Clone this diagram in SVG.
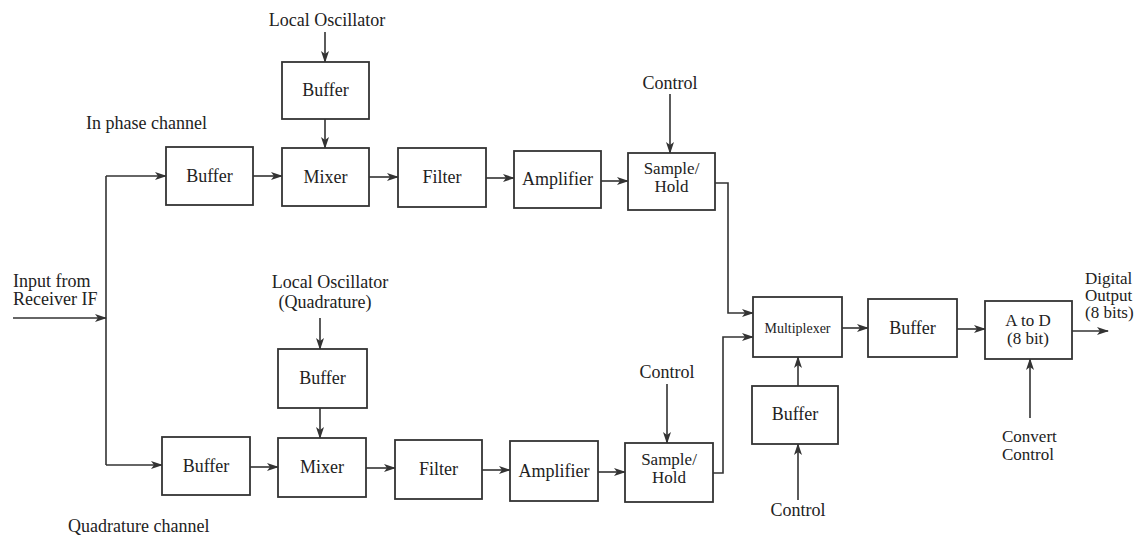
<svg xmlns="http://www.w3.org/2000/svg" width="1146" height="540" viewBox="0 0 1146 540">
<style>
  .box { fill: #fff; stroke: #333; stroke-width: 1.8; }
  .t { font-family: "Liberation Serif", "Times New Roman", serif; font-size: 18px; fill: #222; }
  .c { text-anchor: middle; }
  .m { font-size: 17px; }
  .small { font-size: 14px; }
  .wire { fill: none; stroke: #333; stroke-width: 1.6; }
  .arr { marker-end: url(#ah); }
</style>
<defs>
  <marker id="ah" viewBox="0 0 12 8" refX="11" refY="4" markerWidth="12" markerHeight="8" markerUnits="userSpaceOnUse" orient="auto">
    <path d="M0,0 L12,4 L0,8 L3,4 Z" fill="#333"/>
  </marker>
</defs>
<rect width="1146" height="540" fill="#fff"/>

<g id="connectors">
  <line class="wire arr" x1="13" y1="318" x2="106" y2="318"/>
  <polyline class="wire" points="106,176 106,465"/>
  <polyline class="wire arr" points="106,176 166,176"/>
  <polyline class="wire arr" points="106,465 162,465"/>
  <line class="wire arr" x1="325" y1="32" x2="325" y2="62"/>
  <line class="wire arr" x1="325" y1="119" x2="325" y2="148"/>
  <line class="wire arr" x1="253" y1="176" x2="282" y2="176"/>
  <line class="wire arr" x1="369" y1="177" x2="398" y2="177"/>
  <line class="wire arr" x1="486" y1="178" x2="514" y2="178"/>
  <line class="wire arr" x1="601" y1="181" x2="628" y2="181"/>
  <line class="wire arr" x1="670" y1="94" x2="670" y2="153"/>
  <polyline class="wire arr" points="715,183 728,183 728,313 753,313"/>
  <line class="wire arr" x1="320" y1="318" x2="320" y2="349"/>
  <line class="wire arr" x1="320" y1="408" x2="320" y2="438"/>
  <line class="wire arr" x1="250" y1="467" x2="278" y2="467"/>
  <line class="wire arr" x1="366" y1="468" x2="395" y2="468"/>
  <line class="wire arr" x1="482" y1="470" x2="510" y2="470"/>
  <line class="wire arr" x1="598" y1="472" x2="625" y2="472"/>
  <line class="wire arr" x1="667" y1="384" x2="667" y2="443"/>
  <polyline class="wire arr" points="713,473 723,473 723,337 753,337"/>
  <line class="wire arr" x1="798" y1="386" x2="798" y2="357"/>
  <line class="wire arr" x1="798" y1="500" x2="798" y2="444"/>
  <line class="wire arr" x1="842" y1="328" x2="868" y2="328"/>
  <line class="wire arr" x1="957" y1="329" x2="985" y2="329"/>
  <line class="wire arr" x1="1072" y1="331" x2="1108" y2="331"/>
  <line class="wire arr" x1="1030" y1="418" x2="1030" y2="359"/>
</g>

<g id="labels">
  <text class="t c" x="327" y="26">Local Oscillator</text>
  <text class="t" x="86" y="129">In phase channel</text>
  <text class="t c" x="670" y="89">Control</text>
  <text class="t" x="13" y="287">Input from</text>
  <text class="t" x="13" y="305">Receiver IF</text>
  <text class="t c" x="330" y="288">Local Oscillator</text>
  <text class="t c" x="325" y="308">(Quadrature)</text>
  <text class="t c" x="667" y="378">Control</text>
  <text class="t" x="68" y="532">Quadrature channel</text>
  <text class="t c" x="798" y="516">Control</text>
  <text class="t m" x="1002" y="442">Convert</text>
  <text class="t m" x="1002" y="460">Control</text>
  <text class="t m" x="1085" y="284">Digital</text>
  <text class="t m" x="1085" y="301">Output</text>
  <text class="t m" x="1085" y="318">(8 bits)</text>
</g>

<g id="lo-buffer-i"><rect class="box" x="282" y="62" width="87" height="57"/><text class="t c" x="325.5" y="96">Buffer</text></g>
<g id="buffer-i"><rect class="box" x="166" y="147" width="87" height="58"/><text class="t c" x="209.5" y="182">Buffer</text></g>
<g id="mixer-i"><rect class="box" x="282" y="148" width="87" height="58"/><text class="t c" x="325.5" y="183">Mixer</text></g>
<g id="filter-i"><rect class="box" x="398" y="148" width="88" height="59"/><text class="t c" x="442" y="183">Filter</text></g>
<g id="amp-i"><rect class="box" x="514" y="151" width="87" height="57"/><text class="t c" x="557.5" y="185">Amplifier</text></g>
<g id="sh-i"><rect class="box" x="628" y="153" width="87" height="57"/><text class="t c m" x="671.5" y="174">Sample/</text><text class="t c m" x="671.5" y="192">Hold</text></g>

<g id="lo-buffer-q"><rect class="box" x="278" y="349" width="89" height="59"/><text class="t c" x="322.5" y="384">Buffer</text></g>
<g id="buffer-q"><rect class="box" x="162" y="437" width="88" height="58"/><text class="t c" x="206" y="472">Buffer</text></g>
<g id="mixer-q"><rect class="box" x="278" y="438" width="88" height="59"/><text class="t c" x="322" y="473">Mixer</text></g>
<g id="filter-q"><rect class="box" x="395" y="440" width="87" height="59"/><text class="t c" x="438.5" y="475">Filter</text></g>
<g id="amp-q"><rect class="box" x="510" y="441" width="88" height="60"/><text class="t c" x="554" y="477">Amplifier</text></g>
<g id="sh-q"><rect class="box" x="625" y="443" width="88" height="59"/><text class="t c m" x="669" y="465">Sample/</text><text class="t c m" x="669" y="483">Hold</text></g>

<g id="mux"><rect class="box" x="753" y="297" width="89" height="60"/><text class="t c small" x="797.5" y="333">Multiplexer</text></g>
<g id="mux-buffer"><rect class="box" x="752" y="386" width="86" height="58"/><text class="t c" x="795" y="420">Buffer</text></g>
<g id="buffer-out"><rect class="box" x="868" y="299" width="89" height="58"/><text class="t c" x="912.5" y="334">Buffer</text></g>
<g id="adc"><rect class="box" x="985" y="301" width="87" height="58"/><text class="t c m" x="1028" y="326">A to D</text><text class="t c m" x="1028" y="344">(8 bit)</text></g>
</svg>
